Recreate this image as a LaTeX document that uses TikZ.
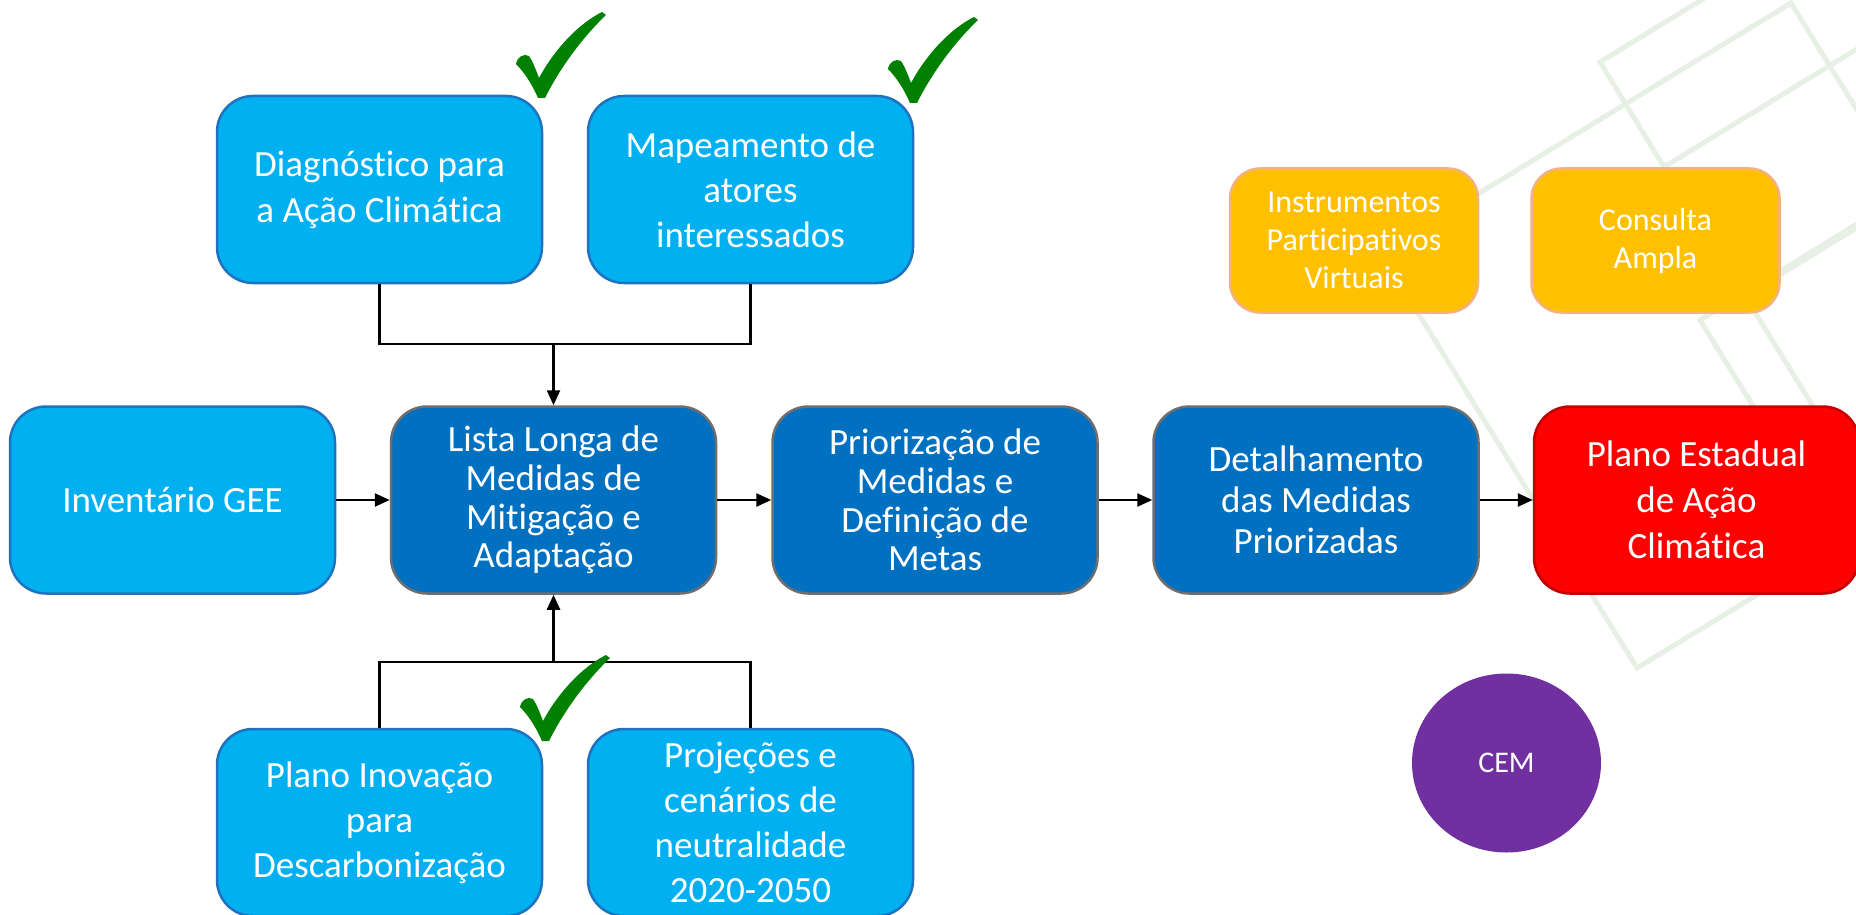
\documentclass[tikz,border=0pt]{standalone}
\usepackage{fontspec}
\setmainfont{Carlito}[Ligatures={NoCommon}]
\usetikzlibrary{arrows.meta,shapes.geometric}
\definecolor{lblue}{HTML}{00B0F0}
\definecolor{lblueb}{HTML}{1F72BE}
\definecolor{dblue}{HTML}{0070C0}
\definecolor{dblueb}{HTML}{6E6E6E}
\definecolor{redf}{HTML}{FF0000}
\definecolor{redb}{HTML}{C00000}
\definecolor{orng}{HTML}{FFC000}
\definecolor{orngb}{HTML}{F4B183}
\definecolor{purp}{HTML}{7030A0}
\definecolor{chk}{HTML}{008000}
\definecolor{bggreen}{HTML}{E7F0E4}
\begin{document}
\begin{tikzpicture}[x=1pt,y=-1pt,
  box/.style={rectangle, rounded corners=36pt, minimum width=325pt, minimum height=187pt,
    inner sep=0pt, align=center, text=white, line width=2.5pt},
  lb/.style={box, fill=lblue, draw=lblueb},
  db/.style={box, fill=dblue, draw=dblueb},
  rb/.style={box, fill=redf, draw=redb},
  ob/.style={rectangle, rounded corners=30pt, minimum width=248pt, minimum height=144pt,
    inner sep=0pt, align=center, text=white, fill=orng, draw=orngb, line width=2.5pt,
    font=\fontsize{32}{38}\selectfont},
  fa/.style={font=\fontsize{37}{46}\selectfont},
  fm/.style={font=\fontsize{37}{45}\selectfont},
  fb/.style={font=\fontsize{37}{38.7}\selectfont},
  fc/.style={font=\fontsize{37}{40.8}\selectfont},
  conn/.style={line width=2.5pt, draw=black},
  arr/.style={conn, -{Triangle[length=15pt,width=13pt]}},
  bgline/.style={draw=bggreen, line width=5pt}
]
\useasboundingbox (0,0) rectangle (1856,915);
\fill[white] (0,0) rectangle (1856,915);
% background frames
\begin{scope}
\clip (0,0) rectangle (1856,915);
\draw[bgline] (1381,253) -- (1637,668) -- (2047,418) -- (1791,3) -- cycle;
\draw[bgline] (1600,62) -- (1664,167) -- (1937,0) -- (1873,-105) -- cycle;
\draw[bgline] (1700,320) -- (1830,531) -- (2100,366) -- (1970,155) -- cycle;
\draw[bgline] (1745,296) -- (1875,507) -- (2145,342) -- (2015,131) -- cycle;
\end{scope}
% top row
\node[lb, fa] (diag) at (379.5,189.5) {Diagnóstico para\\a Ação Climática};
\node[lb, fm] (mape) at (750.5,189.5) {Mapeamento de\\atores\\interessados};
% main row
\node[lb, fa] (inv) at (172.5,500) {Inventário GEE};
\node[db, fb] (lista) at (553.5,500) {Lista Longa de\\Medidas de\\Mitigação e\\Adaptação};
\node[db, fb] (prior) at (935,500) {Priorização de\\Medidas e\\Definição de\\Metas};
\node[db, fc] (detal) at (1316,500) {Detalhamento\\das Medidas\\Priorizadas};
\node[rb, fa] (pea) at (1696.5,500) {Plano Estadual\\de Ação\\Climática};
% orange
\node[ob] (instr) at (1354,240.5) {Instrumentos\\Participativos\\Virtuais};
\node[ob] (cons) at (1655.5,240.5) {Consulta\\Ampla};
% CEM
\node[ellipse, fill=purp, minimum width=189pt, minimum height=179pt, inner sep=0pt,
  text=white, font=\fontsize{30}{36}\selectfont] (cem) at (1506.5,763) {CEM};
% bottom row
\node[lb, fm] (inov) at (379.5,822.5) {Plano Inovação\\para\\Descarbonização};
\node[lb, fm] (proj) at (750.5,822.5) {Projeções e\\cenários de\\neutralidade\\2020-2050};
% connectors
\coordinate (jt) at (553.5,344);
\coordinate (jb) at (553.5,662);
\draw[conn] (diag.south) |- (jt) -| (mape.south);
\draw[arr] (jt) -- (lista.north);
\draw[conn] (inov.north) |- (jb) -| (proj.north);
\draw[arr] (jb) -- (lista.south);
\draw[arr] (inv) -- (lista);
\draw[arr] (lista) -- (prior);
\draw[arr] (prior) -- (detal);
\draw[arr] (detal) -- (pea);
% check marks
\foreach \cx/\cy in {516/12,888/17,520/655}{
  \begin{scope}[shift={(\cx,\cy)}]
  \fill[chk] (0,52) .. controls (1,45) and (8,41) .. (13,44)
    .. controls (17,50) and (20,58) .. (23,66)
    .. controls (38,38) and (62,12) .. (86,0) -- (90,3)
    .. controls (66,26) and (44,56) .. (29,86) -- (22,86)
    .. controls (16,72) and (8,60) .. (0,52) -- cycle;
  \end{scope}
}
\end{tikzpicture}
\end{document}
